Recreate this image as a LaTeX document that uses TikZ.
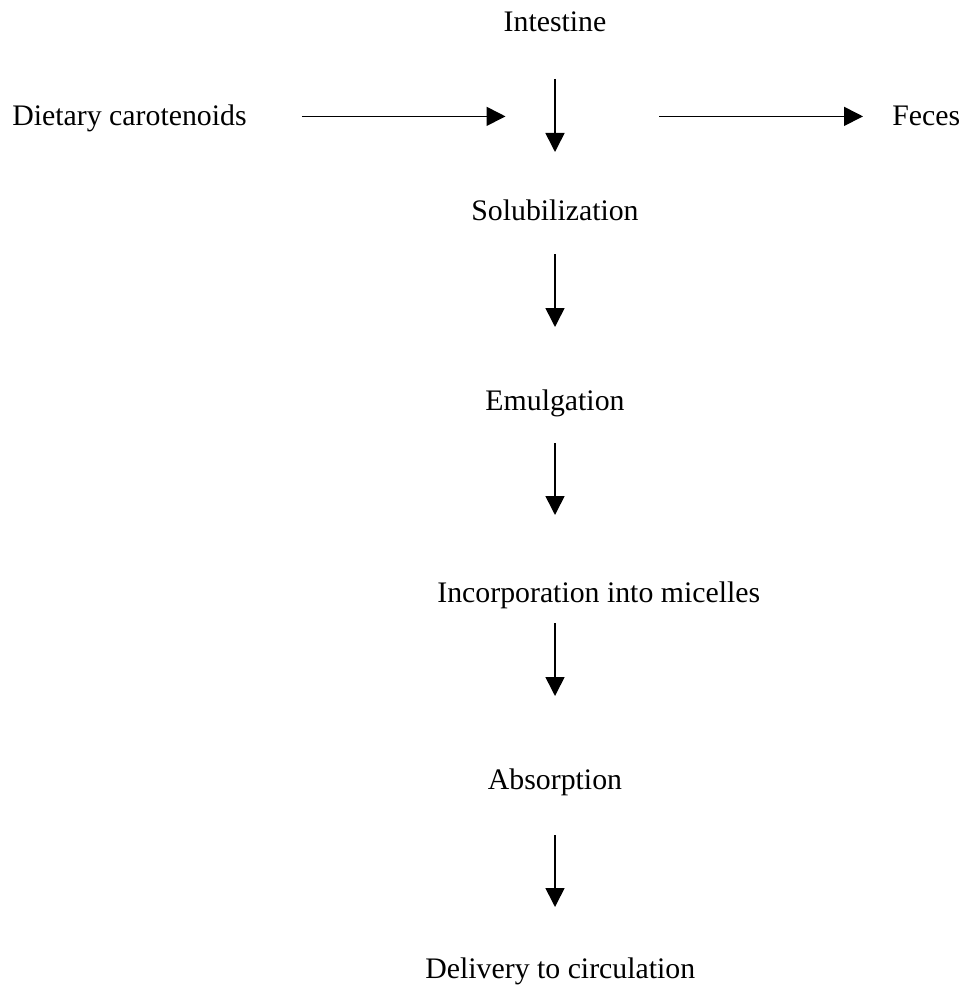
\documentclass[tikz,border=0pt]{standalone}
\usepackage{fontspec}
\setmainfont{Liberation Serif}
\usetikzlibrary{arrows.meta}
\begin{document}
\begin{tikzpicture}[x=0.5pt,y=-0.5pt,
        every node/.style={inner sep=0pt,font=\fontsize{14.9}{17}\selectfont},
        flow/.style={-{Triangle[length=9.5pt,width=9.5pt]},line width=0.8pt}]
            \useasboundingbox (0,0) rectangle (966,990);
            \node[anchor=base] at (555,32) (intest) {Intestine};
            \node[anchor=base west] at (12,126) (diet) {Dietary carotenoids};
            \node[anchor=base west] at (892,126) (feces) {Feces};
            \node[anchor=base] at (555,220) (solub) {Solubilization};
            \node[anchor=base] at (555,410) (emulg) {Emulgation};
            \node[anchor=base west] at (437,602) (incorp) {Incorporation into micelles};
            \node[anchor=base] at (555,789) (absorp) {Absorption};
            \node[anchor=base west] at (425,978) (deliv) {Delivery to circulation};
            \draw[flow,shorten <=27.5pt,shorten >=24.75pt] (diet.east |- feces) -- (feces -| intest);
            \draw[flow,shorten <=52pt,shorten >=14.5pt] (feces -| intest) -- (feces);
            \draw[flow,shorten <=23.5pt,shorten >=34pt] (intest.base) -- (solub.base);
            \draw[flow,shorten <=17pt,shorten >=41.5pt] (solub.base) -- (emulg.base);
            \draw[flow,shorten <=16.5pt,shorten >=43.5pt] (emulg.base) -- (emulg.base |- incorp.base);
            \draw[flow,shorten <=10.5pt,shorten >=46.5pt] (absorp.base |- incorp.base) -- (absorp.base);
            \draw[flow,shorten <=23pt,shorten >=35.5pt] (absorp.base) -- (absorp.base |- deliv.base);
        \end{tikzpicture}
\end{document}
